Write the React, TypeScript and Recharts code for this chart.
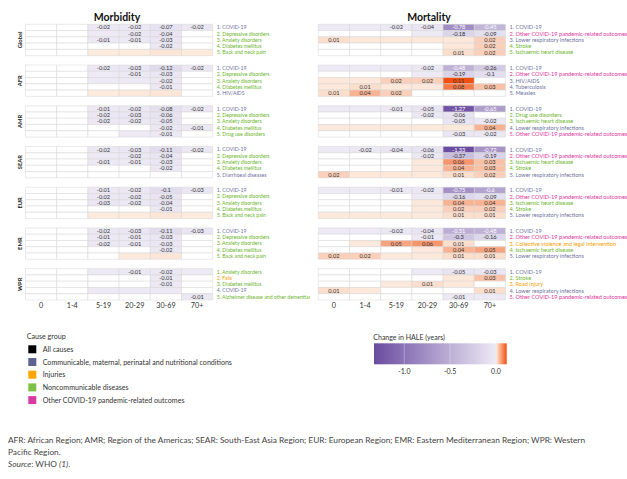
import React from 'react';
import { ScatterChart, Scatter, XAxis, YAxis, ReferenceArea } from 'recharts';

const ageGroups = ['0', '1-4', '5-19', '20-29', '30-69', '70+'];
const regions = ['Global', 'AFR', 'AMR', 'SEAR', 'EUR', 'EMR', 'WPR'];
const _ = null;

// ---------- Morbidity ----------
const morbCausesGlobal = ['COVID-19', 'Depressive disorders', 'Anxiety disorders', 'Diabetes mellitus', 'Back and neck pain'];
const morbGroupsGlobal = ['C', 'N', 'N', 'N', 'N'];
const morbValuesGlobal = [
  [_, _, -0.02, -0.02, -0.07, -0.02],
  [_, _, -0.003, -0.02, -0.04, _],
  [_, _, -0.01, -0.01, -0.03, _],
  [_, _, _, _, -0.02, _],
  [_, _, 0.001, 0.001, 0.004, 0.001],
];
const morbCausesAFR = ['COVID-19', 'Depressive disorders', 'Anxiety disorders', 'Diabetes mellitus', 'HIV/AIDS'];
const morbGroupsAFR = ['C', 'N', 'N', 'N', 'C'];
const morbValuesAFR = [
  [_, _, -0.02, -0.03, -0.12, -0.02],
  [_, _, -0.003, -0.01, -0.03, _],
  [_, _, -0.002, -0.003, -0.02, _],
  [_, _, _, _, -0.01, _],
  [_, _, 0.001, 0.002, 0.004, _],
];
const morbCausesAMR = ['COVID-19', 'Depressive disorders', 'Anxiety disorders', 'Diabetes mellitus', 'Drug use disorders'];
const morbGroupsAMR = ['C', 'N', 'N', 'N', 'N'];
const morbValuesAMR = [
  [_, _, -0.01, -0.02, -0.08, -0.02],
  [_, _, -0.02, -0.03, -0.06, _],
  [_, _, -0.02, -0.02, -0.05, _],
  [_, _, _, _, -0.02, -0.01],
  [_, _, _, -0.002, -0.01, _],
];
const morbCausesSEAR = ['COVID-19', 'Depressive disorders', 'Anxiety disorders', 'Diabetes mellitus', 'Diarrhoeal diseases'];
const morbGroupsSEAR = ['C', 'N', 'N', 'N', 'C'];
const morbValuesSEAR = [
  [_, _, -0.02, -0.03, -0.11, -0.02],
  [_, _, -0.003, -0.02, -0.04, _],
  [_, _, -0.01, -0.01, -0.03, _],
  [_, _, _, _, -0.02, _],
  [_, _, _, _, _, _],
];
const morbCausesEUR = ['COVID-19', 'Depressive disorders', 'Anxiety disorders', 'Diabetes mellitus', 'Back and neck pain'];
const morbGroupsEUR = ['C', 'N', 'N', 'N', 'N'];
const morbValuesEUR = [
  [_, _, -0.01, -0.02, -0.1, -0.03],
  [_, _, -0.02, -0.02, -0.05, _],
  [_, _, -0.03, -0.02, -0.04, _],
  [_, _, _, _, -0.01, _],
  [_, _, 0.001, 0.001, 0.004, 0.001],
];
const morbCausesEMR = ['COVID-19', 'Depressive disorders', 'Anxiety disorders', 'Diabetes mellitus', 'Back and neck pain'];
const morbGroupsEMR = ['C', 'N', 'N', 'N', 'N'];
const morbValuesEMR = [
  [_, _, -0.02, -0.03, -0.11, -0.03],
  [_, _, -0.01, -0.01, -0.03, _],
  [_, _, -0.02, -0.01, -0.03, _],
  [_, _, _, _, -0.02, _],
  [_, _, _, 0.002, 0.004, _],
];
const morbCausesWPR = ['Anxiety disorders', 'Falls', 'Diabetes mellitus', 'COVID-19', 'Alzheimer disease and other dementias'];
const morbGroupsWPR = ['N', 'I', 'N', 'C', 'N'];
const morbValuesWPR = [
  [_, _, -0.002, -0.01, -0.02, -0.002],
  [_, _, _, _, -0.01, _],
  [_, _, _, _, -0.01, _],
  [_, _, -0.002, -0.002, -0.003, _],
  [_, _, _, _, _, -0.01],
];

// ---------- Mortality ----------
const OTHER = 'Other COVID-19 pandemic-related outcomes';
const mortCausesGlobal = ['COVID-19', OTHER, 'Lower respiratory infections', 'Stroke', 'Ischaemic heart disease'];
const mortGroupsGlobal = ['C', 'O', 'C', 'N', 'N'];
const mortValuesGlobal = [
  [-0.003, -0.003, -0.02, -0.04, -0.78, -0.45],
  [_, _, _, -0.003, -0.18, -0.09],
  [0.01, 0.003, 0.003, 0.002, 0.003, 0.02],
  [_, _, _, _, 0.003, 0.02],
  [_, _, _, _, 0.01, 0.02],
];
const mortCausesAFR = ['COVID-19', OTHER, 'HIV/AIDS', 'Tuberculosis', 'Measles'];
const mortGroupsAFR = ['C', 'O', 'C', 'C', 'C'];
const mortValuesAFR = [
  [-0.003, -0.003, -0.003, -0.02, -0.48, -0.26],
  [_, _, _, -0.003, -0.19, -0.1],
  [0.003, 0.003, 0.02, 0.02, 0.11, _],
  [0.003, 0.01, 0.003, 0.002, 0.08, 0.03],
  [0.01, 0.04, 0.02, _, _, _],
];
const mortCausesAMR = ['COVID-19', 'Drug use disorders', 'Ischaemic heart disease', 'Lower respiratory infections', OTHER];
const mortGroupsAMR = ['C', 'N', 'N', 'C', 'O'];
const mortValuesAMR = [
  [-0.003, -0.003, -0.01, -0.05, -1.27, -0.65],
  [_, _, _, -0.02, -0.06, _],
  [_, _, _, _, -0.05, -0.02],
  [0.002, 0.002, 0.002, 0.002, 0.003, 0.04],
  [_, _, _, _, -0.03, -0.02],
];
const mortCausesSEAR = ['COVID-19', OTHER, 'Ischaemic heart disease', 'Stroke', 'Lower respiratory infections'];
const mortGroupsSEAR = ['C', 'O', 'N', 'N', 'C'];
const mortValuesSEAR = [
  [-0.003, -0.02, -0.04, -0.06, -1.33, -0.72],
  [_, _, _, -0.02, -0.37, -0.19],
  [_, _, _, 0.002, 0.06, 0.03],
  [_, _, _, 0.002, 0.04, 0.03],
  [0.02, 0.003, 0.003, 0.003, 0.01, 0.02],
];
const mortCausesEUR = ['COVID-19', OTHER, 'Ischaemic heart disease', 'Stroke', 'Lower respiratory infections'];
const mortGroupsEUR = ['C', 'O', 'N', 'N', 'C'];
const mortValuesEUR = [
  [-0.003, -0.003, -0.01, -0.02, -0.75, -0.6],
  [_, _, _, -0.003, -0.16, -0.09],
  [_, _, _, 0.002, 0.04, 0.04],
  [_, _, _, 0.002, 0.02, 0.02],
  [0.002, 0.002, 0.002, 0.002, 0.01, 0.01],
];
const mortCausesEMR = ['COVID-19', OTHER, 'Collective violence and legal intervention', 'Ischaemic heart disease', 'Lower respiratory infections'];
const mortGroupsEMR = ['C', 'O', 'I', 'N', 'C'];
const mortValuesEMR = [
  [-0.003, -0.003, -0.02, -0.04, -0.51, -0.48],
  [_, _, _, -0.01, -0.3, -0.16],
  [_, 0.002, 0.05, 0.06, 0.01, _],
  [_, _, _, 0.002, 0.04, 0.05],
  [0.02, 0.02, 0.002, 0.002, 0.01, 0.01],
];
const mortCausesWPR = ['COVID-19', 'Stroke', 'Road injury', 'Lower respiratory infections', OTHER];
const mortGroupsWPR = ['C', 'N', 'I', 'C', 'O'];
const mortValuesWPR = [
  [_, _, _, -0.003, -0.05, -0.03],
  [_, _, _, _, 0.003, 0.03],
  [_, _, 0.002, 0.01, 0.003, _],
  [0.01, 0.002, _, _, _, 0.01],
  [_, _, _, _, -0.01, -0.003],
];

const legendItems = ['All causes', 'Communicable, maternal, perinatal and nutritional conditions', 'Injuries', 'Noncommunicable diseases', 'Other COVID-19 pandemic-related outcomes'];
const legendColors = ['#000000', '#5d6290', '#ffa500', '#7cc142', '#d93a9f'];
const colorbarTicks = [-1.0, -0.5, 0.0];

const morbValues = [morbValuesGlobal, morbValuesAFR, morbValuesAMR, morbValuesSEAR, morbValuesEUR, morbValuesEMR, morbValuesWPR];
const morbCauses = [morbCausesGlobal, morbCausesAFR, morbCausesAMR, morbCausesSEAR, morbCausesEUR, morbCausesEMR, morbCausesWPR];
const morbGroups = [morbGroupsGlobal, morbGroupsAFR, morbGroupsAMR, morbGroupsSEAR, morbGroupsEUR, morbGroupsEMR, morbGroupsWPR];
const mortValues = [mortValuesGlobal, mortValuesAFR, mortValuesAMR, mortValuesSEAR, mortValuesEUR, mortValuesEMR, mortValuesWPR];
const mortCauses = [mortCausesGlobal, mortCausesAFR, mortCausesAMR, mortCausesSEAR, mortCausesEUR, mortCausesEMR, mortCausesWPR];
const mortGroups = [mortGroupsGlobal, mortGroupsAFR, mortGroupsAMR, mortGroupsSEAR, mortGroupsEUR, mortGroupsEMR, mortGroupsWPR];

const groupText: Record<string, string> = { C: '#6f72a0', N: '#6cb52d', I: '#f5a000', O: '#e0349a' };

const STEP = 6.5;
const NEG_MIN = -1.33;
const POS_MAX = 0.11;
const NEG_LIGHT = [237, 234, 245];
const NEG_DARK = [106, 76, 160];
const POS_LIGHT = [253, 236, 223];
const POS_DARK = [242, 78, 14];

function mix(a: number[], b: number[], t: number) {
  const c = a.map((v, i) => Math.round(v + (b[i] - v) * t));
  return `rgb(${c[0]},${c[1]},${c[2]})`;
}
function cellColor(v: number | null) {
  if (v === null) return '#ffffff';
  if (v < 0) return mix(NEG_LIGHT, NEG_DARK, Math.min(1, v / NEG_MIN));
  return mix(POS_LIGHT, POS_DARK, Math.min(1, v / POS_MAX));
}
function fmt(v: number) {
  return String(Number(v.toFixed(2)));
}

const FONT = 'Lato, "Noto Sans", sans-serif';

function HeatChart(props: any) {
  const { values, causes, groups, width, margin, showRegions, labelSize } = props;
  const labelData: any[] = [];
  causes.forEach((list: string[], r: number) =>
    list.forEach((c, k) =>
      labelData.push({ x: 6, y: r * STEP + k + 0.5, text: `${k + 1}. ${c}`, group: groups[r][k] })
    )
  );
  const areas: any[] = [];
  values.forEach((rows: (number | null)[][], r: number) =>
    rows.forEach((row, k) =>
      row.forEach((v, c) => {
        const show = v !== null && Math.abs(v) >= 0.005;
        areas.push(
          <ReferenceArea
            key={`${r}-${k}-${c}`}
            x1={c}
            x2={c + 1}
            y1={r * STEP + k}
            y2={r * STEP + k + 1}
            fill={cellColor(v)}
            fillOpacity={1}
            stroke="#d5d5d5"
            strokeWidth={0.5}
            label={
              show
                ? { value: fmt(v as number), position: 'center', fontSize: 5.7, fill: (v as number) <= -0.45 ? '#ffffff' : '#333333' }
                : undefined
            }
          />
        );
      })
    )
  );
  const renderLabel = (p: any) => (
    <text x={p.cx + 4} y={p.cy} dy="0.35em" fontSize={labelSize} fill={groupText[p.payload.group]}>
      {p.payload.text}
    </text>
  );
  const renderRegion = (p: any) => {
    const r = Math.round((p.payload.value - 2.5) / STEP);
    const cx = p.x - 5.5;
    return (
      <text x={cx} y={p.y} transform={`rotate(-90 ${cx} ${p.y})`} textAnchor="middle" dominantBaseline="central" fontSize={5.8} fontWeight="bold" fill="#222">
        {regions[r]}
      </text>
    );
  };
  return (
    <ScatterChart width={width} height={316} margin={margin}>
      <XAxis
        type="number"
        dataKey="x"
        domain={[0, 6]}
        ticks={ageGroups.map((_a, i) => i + 0.5)}
        interval={0}
        tickFormatter={(v: number) => ageGroups[Math.round(v - 0.5)]}
        axisLine={false}
        tickLine={false}
        tickSize={0}
        tickMargin={3}
        height={16}
        tick={{ fontSize: 7.2, fill: '#333' }}
      />
      <YAxis
        type="number"
        dataKey="y"
        domain={[0, 6 * STEP + 5]}
        reversed
        hide={!showRegions}
        width={showRegions ? 25.5 : 0}
        ticks={regions.map((_a, r) => r * STEP + 2.5)}
        interval={0}
        axisLine={false}
        tickLine={false}
        tickSize={0}
        tickMargin={0}
        tick={renderRegion}
      />
      {areas}
      <Scatter data={labelData} shape={renderLabel} isAnimationActive={false} />
    </ScatterChart>
  );
}

export default function App() {
  const barX0 = 374;
  const barZero = 496;
  const barX1 = 506.7;
  const pxPerUnit = (barZero - barX0) / -NEG_MIN;
  return (
    <div style={{ position: 'absolute', left: 0, top: 0, width: 627, height: 479, background: '#fff', fontFamily: FONT }}>
      <div style={{ position: 'absolute', left: 0, top: 0 }}>
        <HeatChart values={morbValues} causes={morbCauses} groups={morbGroups} width={310} margin={{ top: 24.3, right: 97.3, left: 0, bottom: 0 }} showRegions labelSize={5.2} />
      </div>
      <div style={{ position: 'absolute', left: 300, top: 0 }}>
        <HeatChart values={mortValues} causes={mortCauses} groups={mortGroups} width={327} margin={{ top: 24.3, right: 121.5, left: 18.3, bottom: 0 }} showRegions={false} labelSize={5.6} />
      </div>
      <svg width={627} height={479} style={{ position: 'absolute', left: 0, top: 0, pointerEvents: 'none' }}>
        <defs>
          <linearGradient id="negGrad" x1="0" x2="1" y1="0" y2="0">
            <stop offset="0" stopColor={mix(NEG_LIGHT, NEG_DARK, 1)} />
            <stop offset="1" stopColor={mix(NEG_LIGHT, NEG_DARK, 0)} />
          </linearGradient>
          <linearGradient id="posGrad" x1="0" x2="1" y1="0" y2="0">
            <stop offset="0" stopColor={mix(POS_LIGHT, POS_DARK, 0)} />
            <stop offset="1" stopColor={mix(POS_LIGHT, POS_DARK, 1)} />
          </linearGradient>
        </defs>
        <text x={117} y={17} textAnchor="middle" dominantBaseline="central" fontSize={10.5} fontWeight="bold" fill="#111">Morbidity</text>
        <text x={429} y={17} textAnchor="middle" dominantBaseline="central" fontSize={10.5} fontWeight="bold" fill="#111">Mortality</text>

        <text x={26.7} y={336.7} dominantBaseline="central" fontSize={7.1} fill="#333">Cause group</text>
        {legendItems.map((name, i) => {
          const cy = 349.3 + i * 12.7;
          return (
            <g key={name}>
              <rect x={28.3} y={cy - 4} width={8} height={8} fill={legendColors[i]} />
              <text x={42.7} y={cy} dominantBaseline="central" fontSize={7.1} fill="#333">{name}</text>
            </g>
          );
        })}

        <text x={373.3} y={337.3} dominantBaseline="central" fontSize={7} fill="#333">Change in HALE (years)</text>
        <rect x={barX0} y={343.3} width={barZero - barX0} height={21} fill="url(#negGrad)" />
        <rect x={barZero} y={343.3} width={barX1 - barZero} height={21} fill="url(#posGrad)" />
        {colorbarTicks.map((t) => (
          <g key={t}>
            {t !== 0 && <line x1={barZero + t * pxPerUnit} x2={barZero + t * pxPerUnit} y1={343.3} y2={364.3} stroke="#ffffff" strokeOpacity={0.5} strokeWidth={0.6} />}
            <text x={barZero + t * pxPerUnit} y={370.7} textAnchor="middle" dominantBaseline="central" fontSize={7} fill="#333">{t.toFixed(1)}</text>
          </g>
        ))}

        <text x={8} y={440} dominantBaseline="central" fontSize={8.3} fill="#444">
          AFR: African Region; AMR; Region of the Americas; SEAR: South-East Asia Region; EUR: European Region; EMR: Eastern Mediterranean Region; WPR: Western
        </text>
        <text x={8} y={452} dominantBaseline="central" fontSize={8.3} fill="#444">Pacific Region.</text>
        <text x={8} y={464} dominantBaseline="central" fontSize={8.3} fill="#444">
          <tspan fontStyle="italic">Source</tspan>: WHO <tspan fontStyle="italic">(1)</tspan>.
        </text>
      </svg>
    </div>
  );
}
